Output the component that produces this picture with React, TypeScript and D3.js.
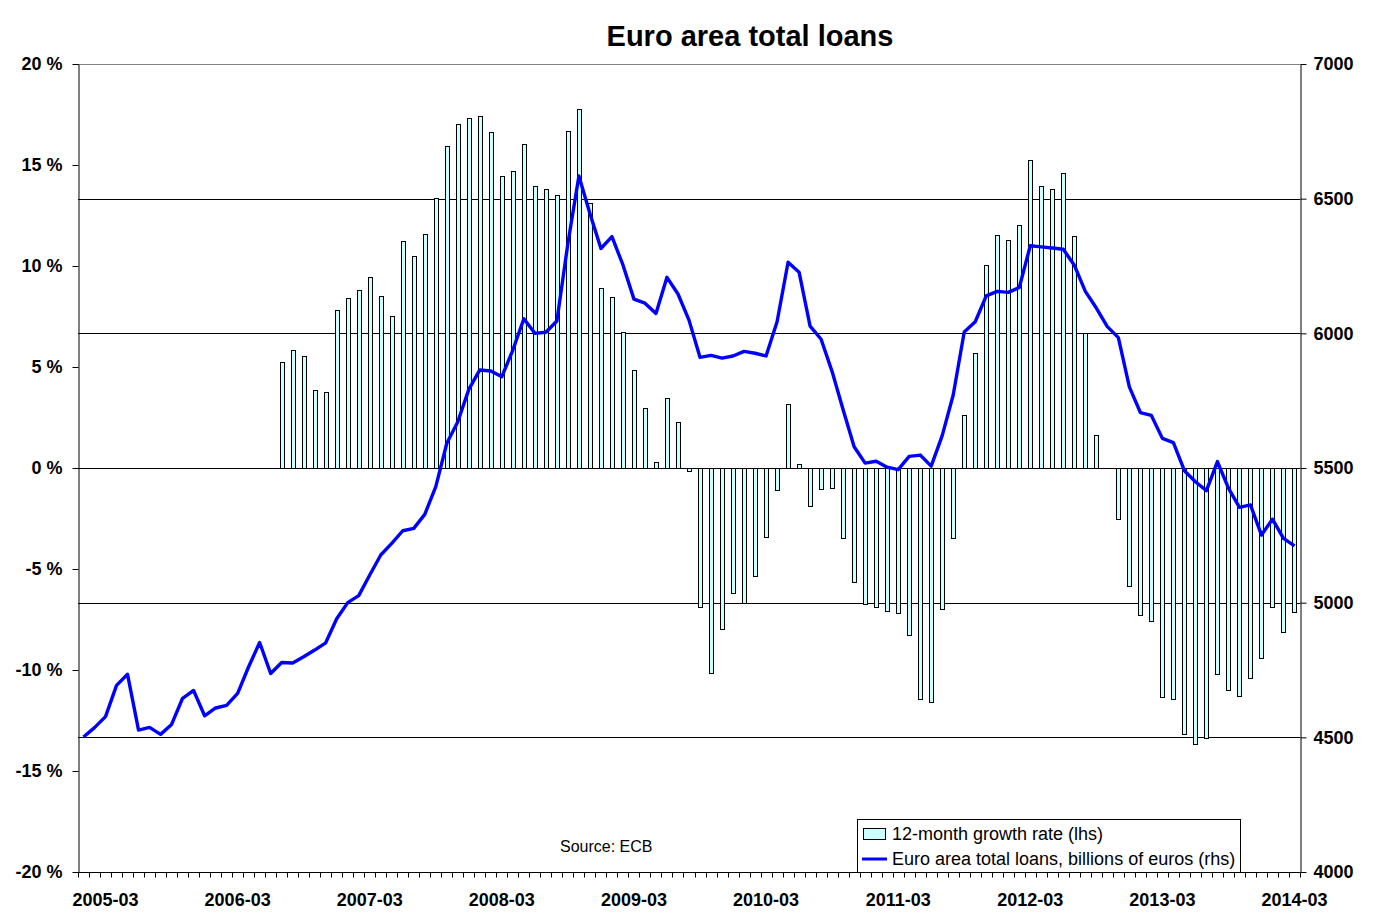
import { useRef, useEffect } from 'react';
import * as d3 from 'd3';

// monthly observations, 2005-01 .. 2014-03
const firstMonth = new Date(2005, 0, 1);
const lastMonth = new Date(2014, 2, 1);

// 12-month growth rate (lhs, %), null = no data
const growthRate: (number | null)[] = [
  null, null, null, null, null, null, null, null, null, null, null, null,
  null, null, null, null, null, null,
  5.23, 5.83, 5.53, 3.85, 3.75, 7.81, 8.40, 8.80, 9.44, 8.50, 7.51, 11.22,
  10.48, 11.57, 13.35, 15.93, 17.01, 17.31, 17.43, 16.62, 14.44, 14.69, 16.02, 13.95,
  13.80, 13.50, 16.67, 17.76, 13.10, 8.90, 8.45, 6.72, 4.84, 2.95, 0.28, 3.45,
  2.26, -0.15, -6.90, -10.16, -7.99, -6.20, -6.70, -5.33, -3.40, -1.11, 3.15, 0.18,
  -1.90, -1.06, -1.01, -3.48, -5.66, -6.75, -6.90, -7.10, -7.20, -8.28, -11.45, -11.56,
  -7.00, -3.48, 2.62, 5.68, 10.05, 11.53, 11.30, 12.03, 15.26, 13.98, 13.83, 14.61,
  11.48, 6.66, 1.62, 0, -2.50, -5.85, -7.30, -7.59, -11.35, -11.45, -13.17, -13.66,
  -13.38, -10.21, -10.99, -11.30, -10.41, -9.42, -6.90, -8.13, -7.14,
];

// Euro area total loans, billions of euros (rhs)
const totalLoans: number[] = [
  4501, 4536, 4577, 4693, 4734, 4527, 4537, 4511, 4548, 4645, 4674, 4580,
  4609, 4619, 4663, 4762, 4852, 4737, 4778, 4776, 4799, 4824, 4851, 4940,
  5000, 5026, 5103, 5177, 5220, 5267, 5276, 5328, 5431, 5592, 5672, 5792,
  5864, 5860, 5839, 5938, 6054, 6000, 6004, 6046, 6334, 6584, 6445, 6315,
  6359, 6254, 6127, 6112, 6074, 6208, 6146, 6049, 5911, 5918, 5908, 5916,
  5933, 5926, 5916, 6043, 6264, 6227, 6027, 5978, 5858, 5716, 5579, 5518,
  5525, 5503, 5494, 5543, 5548, 5507, 5620, 5771, 6005, 6043, 6139, 6156,
  6152, 6170, 6325, 6321, 6317, 6312, 6253, 6156, 6094, 6025, 5984, 5801,
  5706, 5695, 5610, 5594, 5490, 5449, 5416, 5524, 5425, 5354, 5363, 5251,
  5310, 5239, 5211,
];

const xTickLabels = [
  '2005-03', '2006-03', '2007-03', '2008-03', '2009-03',
  '2010-03', '2011-03', '2012-03', '2013-03', '2014-03',
];
const leftTicks = [20, 15, 10, 5, 0, -5, -10, -15, -20];
const rightTicks = [7000, 6500, 6000, 5500, 5000, 4500, 4000];
const gridValues = [6500, 6000, 5500, 5000, 4500];

const W = 1377;
const H = 923;
const FONT = '"Liberation Sans", Arial, sans-serif';

export default function App() {
  const svgRef = useRef<SVGSVGElement | null>(null);

  useEffect(() => {
    const margin = { top: 64, right: 77, bottom: 51, left: 78 };
    const innerWidth = W - margin.left - margin.right;
    const innerHeight = H - margin.top - margin.bottom;

    d3.select(svgRef.current).selectAll('*').remove();
    const svg = d3.select(svgRef.current)
      .attr('width', W)
      .attr('height', H)
      .style('font-family', FONT);

    const months = d3.timeMonth.range(firstMonth, d3.timeMonth.offset(lastMonth, 1));
    const fmt = d3.timeFormat('%Y-%m');
    const keys = months.map(fmt);

    const g = svg.append('g')
      .attr('transform', `translate(${margin.left},${margin.top})`);

    const xScale = d3.scaleBand<string>()
      .domain(keys)
      .range([0, innerWidth])
      .padding(0);
    const step = xScale.step();
    const barW = 4;

    const yLeft = d3.scaleLinear().domain([-20, 20]).range([innerHeight, 0]);
    const yRight = d3.scaleLinear().domain([4000, 7000]).range([innerHeight, 0]);

    // top border
    g.append('line')
      .attr('x1', 0).attr('x2', innerWidth)
      .attr('y1', 0.5).attr('y2', 0.5)
      .attr('stroke', '#808080');

    // gridlines (rhs values)
    g.append('g')
      .selectAll('line')
      .data(gridValues)
      .join('line')
      .attr('x1', 0).attr('x2', innerWidth)
      .attr('y1', (d) => Math.round(yRight(d)) + 0.5)
      .attr('y2', (d) => Math.round(yRight(d)) + 0.5)
      .attr('stroke', '#000')
      .attr('stroke-width', 1);

    // bars
    const barData = keys
      .map((k, i) => ({ k, v: growthRate[i] }))
      .filter((d) => d.v !== null && d.v !== 0) as { k: string; v: number }[];
    g.append('g')
      .attr('shape-rendering', 'crispEdges')
      .selectAll('rect')
      .data(barData)
      .join('rect')
      .attr('x', (d) => Math.round((xScale(d.k) ?? 0) + step / 2 - barW / 2) + 0.5)
      .attr('y', (d) => Math.round(yLeft(Math.max(0, d.v))) + 0.5)
      .attr('width', barW)
      .attr('height', (d) => Math.max(1, Math.round(Math.abs(yLeft(d.v) - yLeft(0)))))
      .attr('fill', '#ccffff')
      .attr('stroke', '#000')
      .attr('stroke-width', 1);

    // loans line
    const line = d3.line<number>()
      .x((_, i) => (xScale(keys[i]) ?? 0) + step / 2)
      .y((d) => yRight(d));
    g.append('path')
      .datum(totalLoans)
      .attr('d', line)
      .attr('fill', 'none')
      .attr('stroke', '#0000ff')
      .attr('stroke-width', 3.4)
      .attr('stroke-linejoin', 'round');

    // left axis
    const leftAxis = g.append('g')
      .attr('transform', 'translate(0.5,0)')
      .call(
        d3.axisLeft(yLeft)
          .tickValues(leftTicks)
          .tickSize(6)
          .tickSizeOuter(0)
          .tickPadding(10)
          .tickFormat((d) => `${d} %`)
      );
    leftAxis.selectAll('text')
      .style('font-family', FONT)
      .style('font-size', '18px')
      .style('font-weight', 'bold')
      .attr('fill', '#000');
    leftAxis.selectAll('line, path').attr('stroke', '#000');

    // right axis
    const rightAxis = g.append('g')
      .attr('transform', `translate(${innerWidth + 0.5},0)`)
      .call(
        d3.axisRight(yRight)
          .tickValues(rightTicks)
          .tickSize(6)
          .tickSizeOuter(0)
          .tickPadding(7)
          .tickFormat((d) => `${d}`)
      );
    rightAxis.selectAll('text')
      .style('font-family', FONT)
      .style('font-size', '18px')
      .style('font-weight', 'bold')
      .attr('fill', '#000');
    rightAxis.selectAll('line, path').attr('stroke', '#000');

    // bottom axis: line, month boundary ticks, yearly labels
    const bottom = g.append('g').attr('transform', `translate(0,${innerHeight + 0.5})`);
    bottom.append('line')
      .attr('x1', 0).attr('x2', innerWidth)
      .attr('stroke', '#000');
    bottom.selectAll('line.tick')
      .data(keys.concat(['end']))
      .join('line')
      .attr('class', 'tick')
      .attr('x1', (d) => Math.round(d === 'end' ? innerWidth : xScale(d) ?? 0) + 0.5)
      .attr('x2', (d) => Math.round(d === 'end' ? innerWidth : xScale(d) ?? 0) + 0.5)
      .attr('y1', 0)
      .attr('y2', 5)
      .attr('stroke', '#000');
    bottom.selectAll('text')
      .data(xTickLabels)
      .join('text')
      .attr('x', (d) => (xScale(d) ?? 0) + step / 2)
      .attr('y', 33)
      .attr('text-anchor', 'middle')
      .style('font-size', '18px')
      .style('font-weight', 'bold')
      .attr('fill', '#000')
      .text((d) => d);

    // title
    svg.append('text')
      .attr('x', 750)
      .attr('y', 46)
      .attr('text-anchor', 'middle')
      .style('font-size', '29px')
      .style('font-weight', 'bold')
      .text('Euro area total loans');

    // source
    svg.append('text')
      .attr('x', 560)
      .attr('y', 852)
      .style('font-size', '16px')
      .text('Source: ECB');

    // legend
    const lg = svg.append('g').attr('transform', 'translate(857,819)');
    lg.append('rect')
      .attr('x', 0.5).attr('y', 0.5)
      .attr('width', 383).attr('height', 53)
      .attr('fill', '#fff')
      .attr('stroke', '#000');
    lg.append('rect')
      .attr('x', 6.5).attr('y', 9.5)
      .attr('width', 22).attr('height', 11)
      .attr('fill', '#ccffff')
      .attr('stroke', '#000');
    lg.append('text')
      .attr('x', 35).attr('y', 21)
      .style('font-size', '18px')
      .text('12-month growth rate (lhs)');
    lg.append('line')
      .attr('x1', 5).attr('x2', 30)
      .attr('y1', 40).attr('y2', 40)
      .attr('stroke', '#0000ff')
      .attr('stroke-width', 3);
    lg.append('text')
      .attr('x', 35).attr('y', 46)
      .style('font-size', '18px')
      .text('Euro area total loans, billions of euros (rhs)');
  }, []);

  return (
    <svg
      ref={svgRef}
      style={{ position: 'absolute', left: 0, top: 0, background: '#fff' }}
    ></svg>
  );
}
